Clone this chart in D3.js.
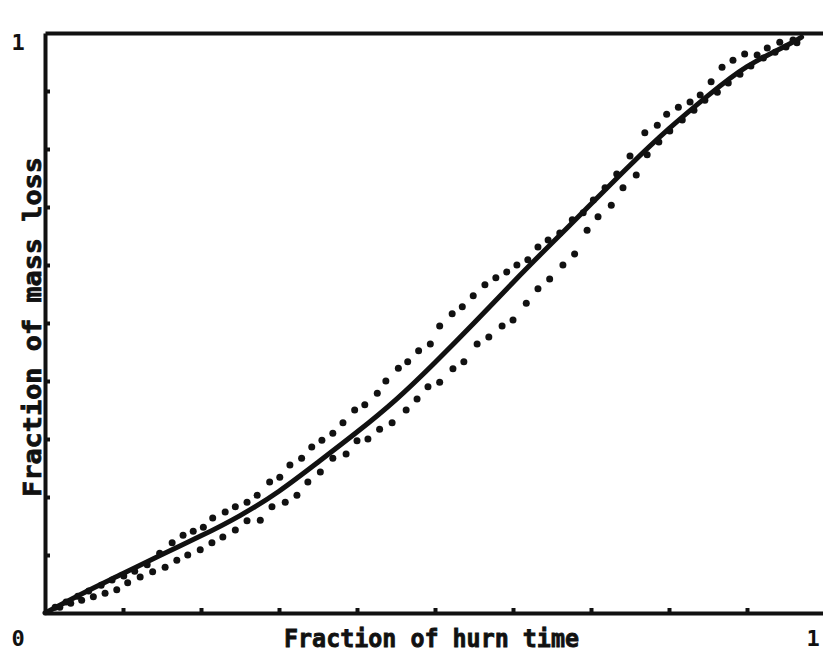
<!DOCTYPE html>
<html>
<head>
<meta charset="utf-8">
<script src="https://cdn.jsdelivr.net/npm/d3@7"></script>
<style>
  body { margin: 0; background: #fff; }
  text { font-family: "DejaVu Sans Mono", "Liberation Mono", monospace; font-weight: bold; fill: #111; }
</style>
</head>
<body>
<div id="chart"></div>
<script>
const WIDTH = 823;
const HEIGHT = 660;
const LEFT = 45;
const RIGHT = 825;
const TOP = 33;
const BOTTOM = 613;

// model curve (solid)
const modelX = [0, 0.05, 0.10, 0.15, 0.20, 0.25, 0.30, 0.35, 0.40, 0.45, 0.50, 0.55, 0.60,
    0.65, 0.70, 0.75, 0.80, 0.85, 0.90, 0.95, 0.97];
const modelY = [0, 0.035, 0.068, 0.101, 0.133, 0.168, 0.210, 0.260, 0.312, 0.368, 0.432, 0.500, 0.570,
    0.638, 0.705, 0.772, 0.835, 0.892, 0.942, 0.978, 0.993];

// measured points, upper run
const upperX = [0.013, 0.027, 0.042, 0.056, 0.072, 0.086, 0.101, 0.115, 0.131, 0.147, 0.163, 0.177, 0.190,
    0.203, 0.215, 0.231, 0.244, 0.259, 0.272, 0.288, 0.301, 0.314, 0.329, 0.342, 0.355, 0.369, 0.382,
    0.397, 0.410, 0.426, 0.437, 0.453, 0.465, 0.479, 0.494, 0.506, 0.522, 0.535, 0.549, 0.564, 0.578,
    0.592, 0.605, 0.619, 0.632, 0.645, 0.660, 0.676, 0.690, 0.703, 0.718, 0.733, 0.750, 0.769, 0.785,
    0.797, 0.812, 0.827, 0.840, 0.854, 0.868, 0.882, 0.897, 0.913, 0.926, 0.942, 0.959];
const upperY = [0.010, 0.019, 0.029, 0.038, 0.048, 0.057, 0.064, 0.072, 0.083, 0.103, 0.121, 0.134, 0.141,
    0.148, 0.164, 0.174, 0.183, 0.191, 0.203, 0.226, 0.234, 0.255, 0.267, 0.286, 0.298, 0.310, 0.328,
    0.350, 0.359, 0.379, 0.400, 0.422, 0.433, 0.452, 0.464, 0.495, 0.516, 0.528, 0.547, 0.566, 0.578,
    0.588, 0.600, 0.609, 0.631, 0.643, 0.655, 0.678, 0.690, 0.712, 0.733, 0.757, 0.788, 0.828, 0.841,
    0.860, 0.872, 0.881, 0.893, 0.916, 0.941, 0.953, 0.964, 0.962, 0.974, 0.984, 0.988];

// measured points, lower run
const lowerX = [0.019, 0.033, 0.047, 0.062, 0.077, 0.092, 0.106, 0.122, 0.138, 0.154, 0.169, 0.183, 0.199,
    0.214, 0.228, 0.244, 0.259, 0.276, 0.291, 0.308, 0.323, 0.337, 0.353, 0.369, 0.386, 0.400, 0.414,
    0.429, 0.445, 0.463, 0.477, 0.491, 0.506, 0.523, 0.537, 0.554, 0.569, 0.586, 0.600, 0.617, 0.632,
    0.647, 0.664, 0.679, 0.695, 0.709, 0.726, 0.741, 0.758, 0.772, 0.787, 0.801, 0.817, 0.832, 0.846,
    0.862, 0.876, 0.891, 0.905, 0.921, 0.936, 0.950, 0.964];
const lowerY = [0.010, 0.017, 0.022, 0.028, 0.034, 0.040, 0.052, 0.062, 0.071, 0.079, 0.091, 0.100, 0.109,
    0.121, 0.131, 0.143, 0.159, 0.160, 0.183, 0.191, 0.203, 0.226, 0.243, 0.267, 0.274, 0.297, 0.300,
    0.317, 0.328, 0.350, 0.369, 0.390, 0.398, 0.421, 0.433, 0.464, 0.476, 0.495, 0.505, 0.534, 0.559,
    0.576, 0.600, 0.619, 0.660, 0.683, 0.703, 0.733, 0.755, 0.790, 0.812, 0.831, 0.850, 0.867, 0.884,
    0.898, 0.914, 0.929, 0.943, 0.957, 0.967, 0.976, 0.983];

const tickVals = [0.1, 0.2, 0.3, 0.4, 0.5, 0.6, 0.7, 0.8, 0.9];

const svg = d3.select("#chart")
    .append("svg")
    .attr("width", WIDTH)
    .attr("height", HEIGHT);

const x = d3.scaleLinear().domain([0, 1]).range([LEFT, RIGHT]);
const y = d3.scaleLinear().domain([0, 1]).range([BOTTOM, TOP]);

function styleAxis(g) {
    g.select(".domain").attr("stroke", "#111").attr("stroke-width", 4);
    g.selectAll(".tick line").attr("stroke", "#111").attr("stroke-width", 4);
}

// axes
svg.append("g")
    .attr("transform", "translate(0," + BOTTOM + ")")
    .call(d3.axisBottom(x).tickValues(tickVals).tickSize(-5).tickSizeOuter(0).tickFormat(""))
    .call(styleAxis);

svg.append("g")
    .attr("transform", "translate(0," + TOP + ")")
    .call(d3.axisTop(x).tickValues([]).tickSizeOuter(0))
    .call(styleAxis);

svg.append("g")
    .attr("transform", "translate(" + LEFT + ",0)")
    .call(d3.axisLeft(y).tickValues(tickVals).tickSize(-5).tickSizeOuter(0).tickFormat(""))
    .call(styleAxis);

// points
function drawDots(xs, ys) {
    svg.append("g")
        .selectAll("circle")
        .data(xs.map((d, i) => [d, ys[i]]))
        .enter()
        .append("circle")
        .attr("cx", (d) => x(d[0]))
        .attr("cy", (d) => y(d[1]))
        .attr("r", 3.5)
        .attr("fill", "#111");
}
drawDots(upperX, upperY);
drawDots(lowerX, lowerY);

// model line
const line = d3.line()
    .x((d) => x(d[0]))
    .y((d) => y(d[1]))
    .curve(d3.curveNatural);

svg.append("path")
    .datum(modelX.map((d, i) => [d, modelY[i]]))
    .attr("d", line)
    .attr("fill", "none")
    .attr("stroke", "#111")
    .attr("stroke-width", 5)
    .attr("stroke-linecap", "round");

// labels
svg.append("text")
    .attr("x", 18).attr("y", 50)
    .attr("text-anchor", "middle")
    .attr("font-size", 22)
    .text("1");

svg.append("text")
    .attr("x", 18).attr("y", 646)
    .attr("text-anchor", "middle")
    .attr("font-size", 22)
    .text("0");

svg.append("text")
    .attr("x", 813).attr("y", 646)
    .attr("text-anchor", "middle")
    .attr("font-size", 22)
    .text("1");

svg.append("text")
    .attr("x", 284).attr("y", 647)
    .attr("font-size", 25)
    .attr("font-weight", "normal")
    .attr("stroke", "#111")
    .attr("stroke-width", 0.8)
    .attr("textLength", 295)
    .attr("lengthAdjust", "spacingAndGlyphs")
    .text("Fraction of hurn time");

svg.append("text")
    .attr("transform", "translate(41,497) rotate(-90)")
    .attr("font-size", 25)
    .attr("font-weight", "normal")
    .attr("stroke", "#111")
    .attr("stroke-width", 0.8)
    .attr("textLength", 340)
    .attr("lengthAdjust", "spacingAndGlyphs")
    .text("Fraction of mass loss");
</script>
</body>
</html>
